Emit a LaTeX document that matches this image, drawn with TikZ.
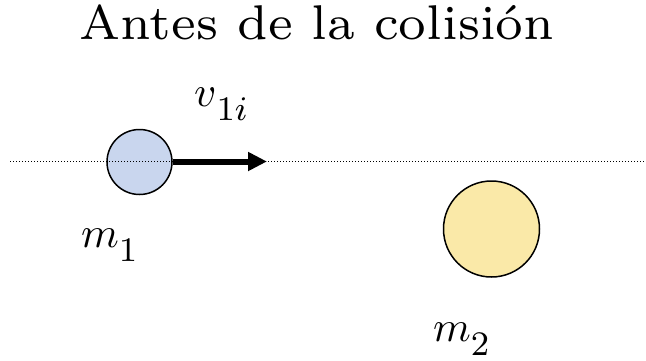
\documentclass[tikz,border=0pt]{standalone}
\usetikzlibrary{arrows.meta}
\definecolor{ballone}{RGB}{201,214,238}
\definecolor{balltwo}{RGB}{250,233,168}
\newcommand\symlbl[2]{\scalebox{4.3}{\fontsize{10}{12}\selectfont$#1$\raisebox{-3.4pt}{\fontsize{8}{9}\selectfont$#2$}}}
\begin{document}
\begin{tikzpicture}[x=1pt,y=-1pt,
  ball/.style={circle,draw=black,line width=1.5pt,inner sep=0pt},
  lbl/.style={inner sep=0pt,anchor=base west}]
\useasboundingbox (0,0) rectangle (646,360);
\node[inner sep=0pt,anchor=base] (title) at (317,39.5) {\scalebox{6.97}{\fontsize{7}{8}\selectfont Antes de la colisión}};
\node[ball,fill=ballone,minimum size=65pt] (b1) at (139.5,162) {};
\node[ball,fill=balltwo,minimum size=96pt] (b2) at (491.5,229) {};
\coordinate (lstart) at (10,161);
\coordinate (lend) at (646,161);
\draw[dotted,line width=1pt] (lstart) -- (lend);
\coordinate (tip) at (267,161.5);
\draw[line width=6pt,-{Triangle[length=19pt,width=18pt]}] (b1.east |- tip) -- (tip);
\node[lbl] (v) at (194,106) {\symlbl{v}{1i}};
\node[lbl] (m1) at (81,247) {\symlbl{m}{1}};
\node[lbl] (m2) at (433,341) {\symlbl{m}{2}};
\end{tikzpicture}
\end{document}
